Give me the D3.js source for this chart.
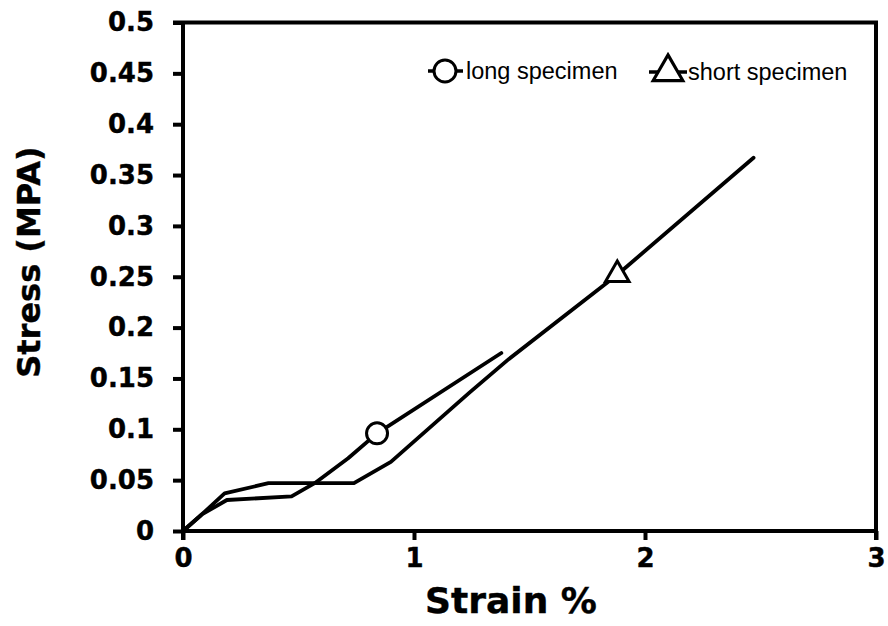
<!DOCTYPE html>
<html>
<head>
<meta charset="utf-8">
<script src="https://cdn.jsdelivr.net/npm/d3@7"></script>
<style>
  html, body { margin: 0; padding: 0; background: #fff; }
  svg { display: block; }
</style>
</head>
<body>
<svg id="chart" width="888" height="626"></svg>
<script>
// ---- data ----
const longStrain   = [0, 0.08, 0.19, 0.47, 0.57, 0.715, 0.84, 1.378];
const longStress   = [0, 0.016, 0.0305, 0.034, 0.047, 0.0715, 0.096, 0.175];
const shortStrain  = [0, 0.08, 0.18, 0.37, 0.74, 0.90, 1.24, 1.41, 1.88, 2.47];
const shortStress  = [0, 0.016, 0.037, 0.047, 0.047, 0.068, 0.136, 0.169, 0.252, 0.367];
const longMarkerIndex = 6;
const shortMarkerIndex = 8;
const seriesNames = ["long specimen", "short specimen"];
const xTicks = [0, 1, 2, 3];
const yTicks = [0, 0.05, 0.1, 0.15, 0.2, 0.25, 0.3, 0.35, 0.4, 0.45, 0.5];
const xTitle = "Strain %";
const yTitle = "Stress (MPA)";

(function () {
// ---- layout ----
const svg = d3.select("#chart");
const pL = 183, pR = 876, pT = 22.5, pB = 531;
const x = d3.scaleLinear().domain([0, 3]).range([pL, pR]);
const y = d3.scaleLinear().domain([0, 0.5]).range([pB, pT]);

const tickFont = "'DejaVu Sans', Verdana, sans-serif";

// frame (top & right)
svg.append("line").attr("x1", pL - 10).attr("x2", pR + 2)
  .attr("y1", pT).attr("y2", pT).attr("stroke", "#000").attr("stroke-width", 4);
svg.append("line").attr("x1", pR).attr("x2", pR)
  .attr("y1", pT).attr("y2", pB + 9).attr("stroke", "#000").attr("stroke-width", 4);

// axes
const xAxis = d3.axisBottom(x).tickValues(xTicks).tickFormat(d3.format("d")).tickSizeInner(9).tickSizeOuter(0).tickPadding(9);
const gx = svg.append("g").attr("transform", `translate(0,${pB})`).call(xAxis);
const yAxis = d3.axisLeft(y).tickValues(yTicks).tickFormat(d => d === 0 ? "0" : String(+d.toFixed(2))).tickSizeInner(10).tickSizeOuter(0).tickPadding(19);
const gy = svg.append("g").attr("transform", `translate(${pL},0)`).call(yAxis);

[gx, gy].forEach(g => {
  g.select(".domain").attr("stroke", "#000").attr("stroke-width", 4);
  g.selectAll(".tick line").attr("stroke", "#000").attr("stroke-width", 4);
  g.selectAll(".tick text").attr("fill", "#000").attr("stroke", "#000").attr("stroke-width", 0.4)
    .style("font-family", tickFont).style("font-weight", "bold").style("font-size", "26px");
});
gx.select(".domain").attr("d", `M${pL - 2},0H${pR + 2}`);
gy.select(".domain").attr("d", `M0,${pT}V${pB + 9}`);

// titles
svg.append("text").attr("x", 511).attr("y", 613).attr("text-anchor", "middle")
  .attr("stroke", "#000").attr("stroke-width", 0.4)
  .style("font-family", tickFont).style("font-weight", "bold").style("font-size", "36px")
  .text(xTitle);
svg.append("text").attr("transform", `translate(40,262) rotate(-90)`).attr("text-anchor", "middle")
  .attr("stroke", "#000").attr("stroke-width", 0.4)
  .style("font-family", tickFont).style("font-weight", "bold").style("font-size", "32px")
  .text(yTitle);

// lines
const line = d3.line().x(d => x(d[0])).y(d => y(d[1]));
const longData = longStrain.map((v, i) => [v, longStress[i]]);
const shortData = shortStrain.map((v, i) => [v, shortStress[i]]);

[shortData, longData].forEach(data => {
  svg.append("path").datum(data).attr("d", line)
    .attr("fill", "none").attr("stroke", "#000").attr("stroke-width", 3.8)
    .attr("stroke-linejoin", "round").attr("stroke-linecap", "round");
});

// markers
const lp = longData[longMarkerIndex];
svg.append("circle").attr("cx", x(lp[0])).attr("cy", y(lp[1])).attr("r", 10.5)
  .attr("fill", "#fff").attr("stroke", "#000").attr("stroke-width", 3);
const sp = shortData[shortMarkerIndex];
svg.append("path").attr("d", d3.symbol().type(d3.symbolTriangle).size(240)())
  .attr("transform", `translate(${x(sp[0])},${y(sp[1])})`)
  .attr("fill", "#fff").attr("stroke", "#000").attr("stroke-width", 3);

// legend
const legFont = "'Liberation Sans', Arial, sans-serif";
const leg1 = svg.append("g").attr("transform", "translate(445,71)");
leg1.append("line").attr("x1", -17).attr("x2", 18).attr("stroke", "#000").attr("stroke-width", 3.6);
leg1.append("circle").attr("r", 11).attr("fill", "#fff").attr("stroke", "#000").attr("stroke-width", 3);
leg1.append("text").attr("x", 21).attr("y", 8)
  .style("font-family", legFont).style("font-size", "23.5px").text(seriesNames[0]);

const leg2 = svg.append("g").attr("transform", "translate(668,72)");
leg2.append("line").attr("x1", -19).attr("x2", 19).attr("stroke", "#000").attr("stroke-width", 3.6);
leg2.append("path").attr("d", d3.symbol().type(d3.symbolTriangle).size(380)())
  .attr("fill", "#fff").attr("stroke", "#000").attr("stroke-width", 3.2);
leg2.append("text").attr("x", 20).attr("y", 8)
  .style("font-family", legFont).style("font-size", "23.5px").text(seriesNames[1]);
})();
</script>
</body>
</html>
